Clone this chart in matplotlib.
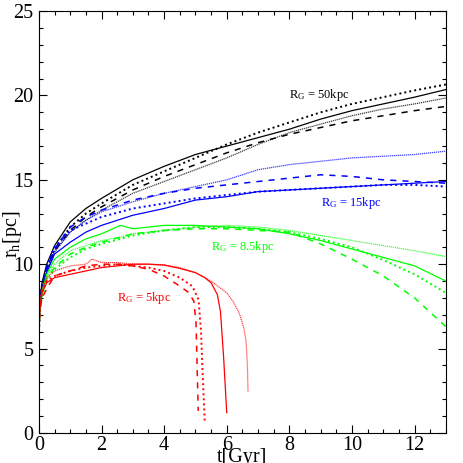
import matplotlib.pyplot as plt
from matplotlib.ticker import MultipleLocator

plt.rcParams['font.family'] = ['Liberation Serif', 'DejaVu Serif']
plt.rcParams['mathtext.fontset'] = 'custom'
plt.rcParams['mathtext.rm'] = 'Liberation Serif'
plt.rcParams['mathtext.it'] = 'Liberation Serif'

# R_G = 50 kpc (black)
t_k = [0, 0.03, 0.1, 0.25, 0.5, 1, 1.5, 2, 3, 4, 5, 6, 7, 8, 9, 10, 11, 12, 13]
k_solid = [6, 7.8, 8.9, 10.0, 11.1, 12.5, 13.3, 13.9, 15.0, 15.8, 16.5, 17.0, 17.5, 18.0, 18.6, 19.1, 19.5, 19.9, 20.35]
k_dot = [6, 7.7, 8.8, 9.8, 10.9, 12.2, 13.0, 13.6, 14.7, 15.5, 16.3, 17.1, 17.8, 18.4, 19.0, 19.5, 19.9, 20.3, 20.65]
k_dash = [6, 7.6, 8.7, 9.7, 10.8, 12.0, 12.8, 13.4, 14.4, 15.2, 15.9, 16.6, 17.2, 17.7, 18.1, 18.5, 18.8, 19.1, 19.35]
k_fine = [6, 7.5, 8.6, 9.6, 10.7, 11.9, 12.6, 13.2, 14.2, 14.9, 15.6, 16.3, 17.1, 17.8, 18.3, 18.8, 19.2, 19.5, 19.85]

# R_G = 15 kpc (blue)
t_b = [0, 0.03, 0.1, 0.25, 0.5, 1, 1.5, 2, 3, 4, 5, 6, 7, 8, 9, 10, 11, 12, 13]
b_solid = [6, 7.4, 8.4, 9.5, 10.6, 11.3, 11.9, 12.3, 12.9, 13.3, 13.8, 14.0, 14.3, 14.4, 14.5, 14.6, 14.7, 14.8, 14.9]
b_dot = [6, 7.6, 8.6, 9.8, 11.0, 12.0, 12.4, 12.8, 13.3, 13.6, 13.9, 14.1, 14.3, 14.4, 14.5, 14.6, 14.7, 14.7, 14.6]
b_dash = [6, 7.6, 8.6, 9.8, 10.9, 12.2, 12.8, 13.2, 13.8, 14.2, 14.5, 14.7, 14.9, 15.1, 15.3, 15.2, 15.0, 14.9, 14.8]
b_fine = [6, 7.5, 8.5, 9.6, 10.8, 11.9, 12.6, 13.1, 13.7, 14.2, 14.6, 15.0, 15.6, 15.9, 16.1, 16.3, 16.4, 16.5, 16.7]

# R_G = 8.5 kpc (green)
t_g = [0, 0.03, 0.1, 0.25, 0.5, 1, 1.5, 2, 2.6, 3, 4, 5, 6, 7, 8, 9, 10, 11, 12, 13]
g_solid = [6, 7.4, 8.4, 9.4, 10.3, 11.0, 11.5, 11.8, 12.3, 12.1, 12.3, 12.3, 12.2, 12.1, 11.8, 11.4, 10.9, 10.4, 9.9, 9.0]
g_dot = [6, 7.2, 8.1, 9.0, 9.7, 10.4, 10.9, 11.2, 11.5, 11.7, 12.0, 12.2, 12.2, 12.1, 11.9, 11.5, 11.0, 10.25, 9.4, 8.3]
g_dash = [6, 7.3, 8.2, 9.1, 9.8, 10.6, 11.0, 11.3, 11.6, 11.8, 12.0, 12.1, 12.1, 12.0, 11.9, 11.2, 10.3, 9.3, 8.0, 6.3]
g_fine = [6, 7.3, 8.2, 9.2, 10.0, 10.8, 11.1, 11.4, 11.6, 11.8, 12.0, 12.2, 12.3, 12.2, 12.0, 11.7, 11.4, 11.1, 10.8, 10.45]

# R_G = 5 kpc (red)
t_r_solid = [0, 0.03, 0.1, 0.25, 0.5, 1, 1.5, 2, 2.5, 3, 3.5, 4, 4.5, 5, 5.3, 5.5, 5.7, 5.8, 5.9, 6.0]
r_solid = [6, 7.4, 8.3, 8.9, 9.2, 9.4, 9.6, 9.8, 9.9, 10.0, 10.0, 9.95, 9.75, 9.5, 9.2, 8.9, 8.2, 7.2, 4.5, 1.2]
t_r_dot = [0, 0.03, 0.1, 0.25, 0.5, 1, 1.5, 2, 2.5, 3, 3.5, 4, 4.5, 4.9, 5.1, 5.18, 5.22, 5.3]
r_dot = [6, 7.4, 8.4, 9.0, 9.3, 9.6, 9.8, 9.9, 10.0, 9.9, 9.8, 9.6, 9.2, 8.7, 7.9, 6.0, 4.0, 0.55]
t_r_dash = [0, 0.03, 0.1, 0.3, 0.5, 1, 1.5, 2, 2.5, 3, 3.5, 4, 4.5, 4.8, 4.95, 5.02, 5.06, 5.09]
r_dash = [6, 7.3, 8.0, 8.7, 9.3, 9.6, 9.9, 10.0, 10.0, 9.9, 9.7, 9.3, 8.7, 8.3, 7.8, 6.5, 3.5, 1.3]
t_r_fine = [0, 0.03, 0.1, 0.25, 0.5, 1, 1.5, 1.7, 2, 2.5, 3, 3.5, 4, 4.5, 5, 5.5, 6.0, 6.2, 6.4, 6.55, 6.62, 6.66, 6.68]
r_fine = [6, 7.5, 8.5, 9.2, 9.6, 9.9, 10.0, 10.3, 10.1, 10.1, 10.0, 10.0, 9.95, 9.8, 9.5, 9.0, 8.3, 7.8, 7.1, 6.2, 5.4, 4.0, 2.45]

styles = {
    'solid': dict(linestyle='-', linewidth=0.9),
    'dot': dict(linestyle=(0, (1, 1.6)), linewidth=1.4),
    'dash': dict(linestyle=(0, (4, 4)), linewidth=1.1),
    'fine': dict(linestyle=(0, (1, 0.6)), linewidth=0.9, alpha=0.75),
}

fig = plt.figure(figsize=(4.63, 4.63), dpi=100)
ax = fig.add_axes([0.084, 0.065, 0.879, 0.911])

groups = [
    ('black', t_k, t_k, t_k, t_k, k_solid, k_dot, k_dash, k_fine),
    ('#0000ff', t_b, t_b, t_b, t_b, b_solid, b_dot, b_dash, b_fine),
    ('#00ff00', t_g, t_g, t_g, t_g, g_solid, g_dot, g_dash, g_fine),
    ('#ff0000', t_r_solid, t_r_dot, t_r_dash, t_r_fine, r_solid, r_dot, r_dash, r_fine),
]
for c, ts, td, tda, tf, ys, yd, yda, yf in groups:
    ax.plot(ts, ys, color=c, **styles['solid'])
    ax.plot(td, yd, color=c, **styles['dot'])
    ax.plot(tda, yda, color=c, **styles['dash'])
    ax.plot(tf, yf, color=c, **styles['fine'])

ax.text(8.0, 20.0, r'R$_\mathrm{G}$ = 50kpc', color='black', fontsize=9, va='center')
ax.text(9.0, 13.6, r'R$_\mathrm{G}$ = 15kpc', color='#0000ff', fontsize=9, va='center')
ax.text(5.5, 11.0, r'R$_\mathrm{G}$ = 8.5kpc', color='#00ff00', fontsize=9, va='center')
ax.text(2.5, 8.0, r'R$_\mathrm{G}$ = 5kpc', color='#ff0000', fontsize=9, va='center')

ax.set_xlim(0, 13)
ax.set_ylim(0, 25)
ax.xaxis.set_major_locator(MultipleLocator(2))
ax.xaxis.set_minor_locator(MultipleLocator(0.5))
ax.yaxis.set_major_locator(MultipleLocator(5))
ax.yaxis.set_minor_locator(MultipleLocator(1))
ax.tick_params(which='both', direction='in', top=True, right=True, labelsize=14.5, pad=2)
ax.tick_params(axis='y', which='major', pad=4)
ax.tick_params(which='major', length=6, width=0.8)
ax.tick_params(which='minor', length=3, width=0.8)
for s in ax.spines.values():
    s.set_linewidth(0.8)

ax.set_xlabel('t[Gyr]', fontsize=14.5, va='top')
ax.xaxis.set_label_coords(0.5, -0.036)
ax.set_ylabel(r'r$_\mathrm{h}$[pc]', fontsize=14.5, va='center')
ax.yaxis.set_label_coords(-0.066, 0.47)

fig.savefig('out.png', dpi=100)
